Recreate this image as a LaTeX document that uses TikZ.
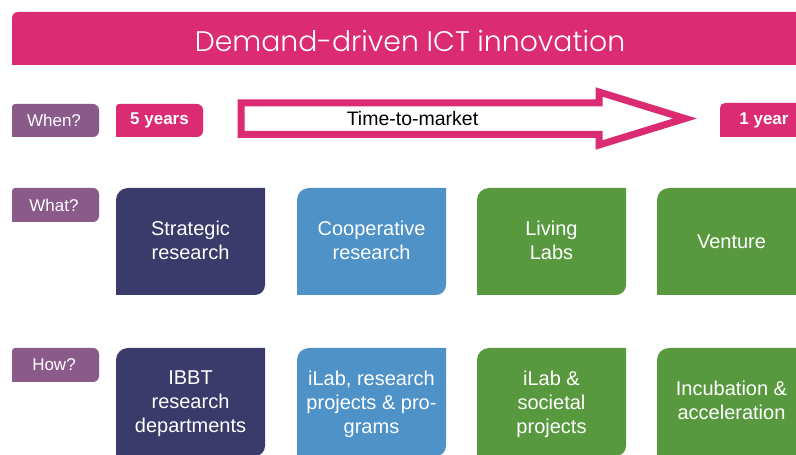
\documentclass[tikz,border=0pt]{standalone}
\usepackage{fontspec}
\setmainfont{Liberation Sans}
\newfontfamily\titlefont{Poppins Light}
\definecolor{ictpink}{RGB}{219,43,114}
\definecolor{ictpurple}{RGB}{138,90,139}
\definecolor{ictnavy}{RGB}{58,58,107}
\definecolor{ictblue}{RGB}{78,146,200}
\definecolor{ictgreen}{RGB}{88,153,63}
% filled panel with individual corner radii:
% #1 colour, #2 left, #3 right, #4 bottom, #5 top, #6 TL, #7 TR, #8 BR, #9 BL
\newcommand\panel[9]{%
  \fill[#1] (#2,#4+#9) -- (#2,#5-#6) arc[start angle=180,end angle=90,radius=#6]
    -- (#3-#7,#5) arc[start angle=90,end angle=0,radius=#7]
    -- (#3,#4+#8) arc[start angle=0,end angle=-90,radius=#8]
    -- (#2+#9,#4) arc[start angle=270,end angle=180,radius=#9] -- cycle;}
\begin{document}
\begin{tikzpicture}[x=1pt,y=1pt,
  tag/.style={text=white,font=\fontsize{17}{20}\selectfont},
  badge/.style={text=white,font=\fontsize{17}{20}\selectfont\bfseries},
  cell/.style={text=white,align=center,font=\fontsize{20}{24}\selectfont}]
\useasboundingbox (0,0) rectangle (796,455);
\fill[white] (0,0) rectangle (796,455);

% title bar
\panel{ictpink}{12}{800}{390}{443}{6}{0.01}{0.01}{0.01}
\node[text=white,font=\titlefont\fontsize{28.3}{32}\selectfont] (title) at (410,414) {Demand-driven ICT innovation};

% row labels
\panel{ictpurple}{12}{99}{318}{351}{3}{6}{6}{0.01}
\node[tag] (when) at (54,334.5) {When?};
\panel{ictpurple}{12}{99}{233}{267}{3}{6}{6}{0.01}
\node[tag] (what) at (54,250) {What?};
\panel{ictpurple}{12}{99}{73}{107}{3}{6}{6}{0.01}
\node[tag] (how) at (54,90) {How?};

% time line
\panel{ictpink}{116}{203}{318}{351}{3}{6}{6}{0.01}
\node[badge] (fiveyears) at (159.5,334.5) {5 years};
\panel{ictpink}{720}{800}{318}{352}{5}{0.01}{0.01}{0.01}
\node[badge] (oneyear) at (764,334.5) {1 year};
\draw[ictpink,line width=7,fill=white,line join=miter]
  (241,352) -- (599,352) -- (599,363) -- (685,336.5) -- (599,310) -- (599,320.5) -- (241,320.5) -- cycle;
\node[font=\fontsize{19.5}{24}\selectfont] (ttm) at (412.5,336) {Time-to-market};

% what
\panel{ictnavy}{116}{265}{160}{267}{12}{0.01}{10}{0.01}
\node[cell] (strat) at (190.5,214.5) {Strategic\\research};
\panel{ictblue}{297}{446}{160}{267}{12}{0.01}{10}{0.01}
\node[cell] (coop) at (371.5,214.5) {Cooperative\\research};
\panel{ictgreen}{477}{626}{160}{267}{12}{0.01}{10}{0.01}
\node[cell] (living) at (551.5,214.5) {Living\\Labs};
\panel{ictgreen}{657}{806}{160}{267}{12}{0.01}{10}{0.01}
\node[cell] (venture) at (731.5,213) {Venture};

% how
\panel{ictnavy}{116}{265}{-1}{107}{12}{0.01}{10}{0.01}
\node[cell] (ibbt) at (190.5,51) {IBBT\\research\\departments};
\panel{ictblue}{297}{446}{-1}{107}{12}{0.01}{10}{0.01}
\node[cell] (ilabrp) at (371.5,51) {iLab, research\\projects \& pro-\\grams};
\panel{ictgreen}{477}{626}{-1}{107}{12}{0.01}{10}{0.01}
\node[cell] (ilabsoc) at (551.5,51) {iLab \&\\societal\\projects};
\panel{ictgreen}{657}{806}{-1}{107}{12}{0.01}{10}{0.01}
\node[cell] (incub) at (731.5,54.5) {Incubation \&\\acceleration};
\end{tikzpicture}
\end{document}
